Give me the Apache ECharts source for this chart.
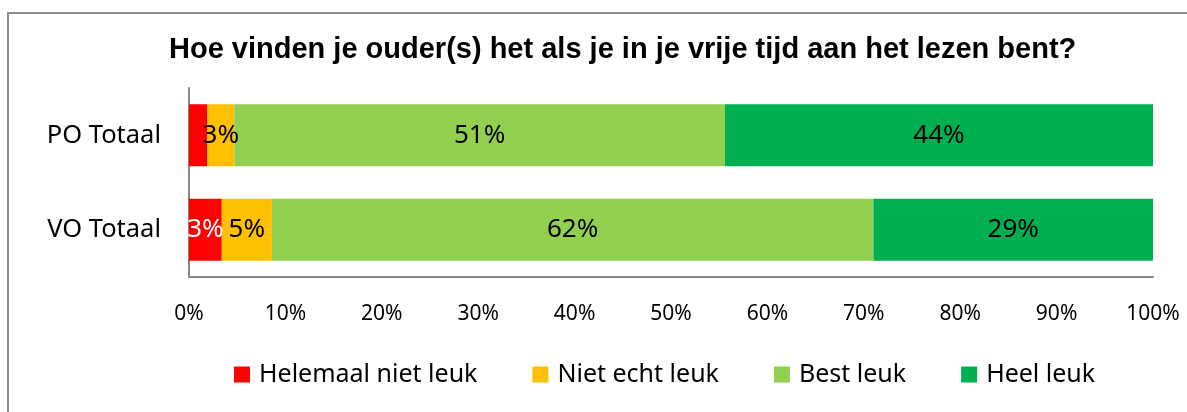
<!DOCTYPE html>
<html>
<head>
<meta charset="utf-8">
<script src="https://cdn.jsdelivr.net/npm/echarts@6/dist/echarts.min.js"></script>
<style>
    html, body { margin: 0; padding: 0; background: #fff; }
    #chart { width: 1187px; height: 412px; }
</style>
</head>
<body>
<div id="chart"></div>
<script>
const categories = ['PO Totaal', 'VO Totaal']
const seriesNames = ['Helemaal niet leuk', 'Niet echt leuk', 'Best leuk', 'Heel leuk']
const helemaalNiet = [1.9, 3.4]
const nietEcht = [2.8, 5.2]
const bestLeuk = [50.9, 62.4]
const heelLeuk = [44.4, 29.0]
const xTicks = [0, 10, 20, 30, 40, 50, 60, 70, 80, 90, 100]

const colors = ['#FF0000', '#FFC000', '#92D050', '#00B050']
const allValues = [helemaalNiet, nietEcht, bestLeuk, heelLeuk]

const chart = echarts.init(document.getElementById('chart'))

const series = allValues.map((vals, i) => ({
    name: seriesNames[i],
    type: 'bar',
    stack: 'total',
    barWidth: 62,
    itemStyle: { color: colors[i] },
    label: {
        show: true,
        position: 'inside',
        fontFamily: 'Noto Sans',
        fontSize: 26,
        color: i === 0 ? '#fff' : '#000',
        formatter: p => Math.round(p.value) + '%',
    },
    // the small red PO part has no label in the original
    data: vals.map(v => (v < 2 ? { value: v, label: { show: false } } : v)),
}))

chart.setOption({
    animation: false,
    title: {
        text: 'Hoe vinden je ouder(s) het als je in je vrije tijd aan het lezen bent?',
        left: 164,
        top: 30,
        textStyle: {
            fontFamily: 'Liberation Sans',
            fontWeight: 'bold',
            fontSize: 29,
            color: '#000',
        },
    },
    graphic: [{
        type: 'rect',
        shape: { x: 8, y: 13, width: 1250, height: 450 },
        style: { fill: null, stroke: '#8c8c8c', lineWidth: 2 },
        silent: true,
    }],
    legend: {
        data: seriesNames,
        top: 357,
        left: 229,
        itemWidth: 16,
        itemHeight: 16,
        itemGap: 55,
        icon: 'rect',
        textStyle: {
            fontFamily: 'Noto Sans',
            fontSize: 25,
            color: '#000',
            padding: [0, 0, 0, 4],
        },
    },
    grid: {
        left: 189,
        right: 34,
        top: 88,
        bottom: 135,
    },
    xAxis: {
        type: 'value',
        min: xTicks[0],
        max: xTicks[xTicks.length - 1],
        interval: 10,
        axisLine: { show: true, lineStyle: { color: '#868686', width: 2 } },
        axisTick: { show: false },
        splitLine: { show: false },
        axisLabel: {
            margin: 27,
            fontFamily: 'Noto Sans',
            fontSize: 21,
            color: '#000',
            formatter: '{value}%',
        },
    },
    yAxis: {
        type: 'category',
        data: categories,
        inverse: true,
        axisLine: { show: true, lineStyle: { color: '#868686', width: 2 } },
        axisTick: { show: false },
        axisLabel: {
            margin: 28,
            fontFamily: 'Noto Sans',
            fontSize: 25.5,
            color: '#000',
        },
    },
    series: series,
})
</script>
</body>
</html>
